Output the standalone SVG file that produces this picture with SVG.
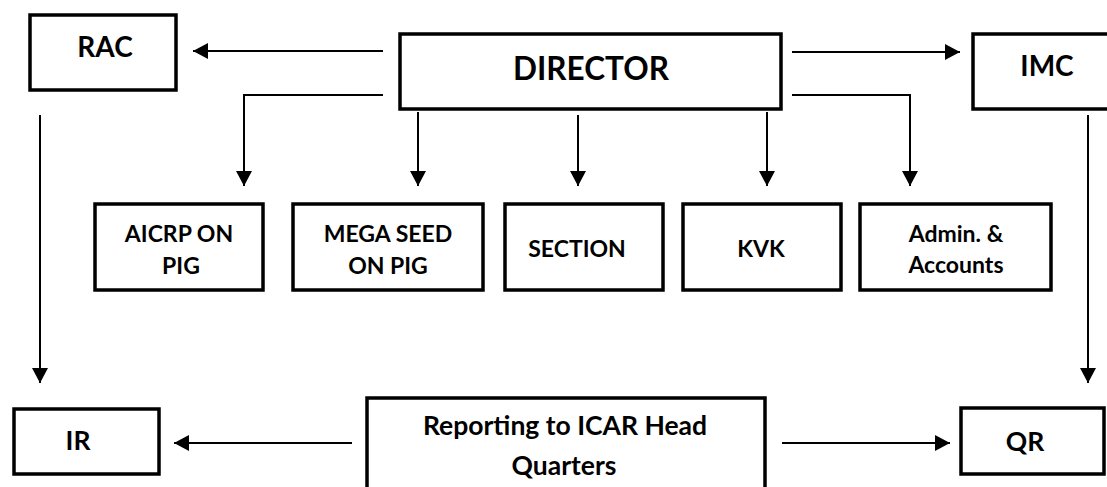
<svg xmlns="http://www.w3.org/2000/svg" width="1107" height="487" viewBox="0 0 1107 487">
<style>
.box{fill:#fff;stroke:#000;stroke-width:3.5}
.ln{fill:none;stroke:#000;stroke-width:2;marker-end:url(#ah)}
text{font-family:Lato,"Liberation Sans",sans-serif;font-weight:bold;fill:#000;text-anchor:middle}
.t1{font-size:23px}
.t2{font-size:26.5px}
.t3{font-size:28px}
.t4{font-size:31.5px}
</style>
<defs>
<marker id="ah" markerUnits="userSpaceOnUse" markerWidth="16" markerHeight="16" refX="15" refY="8" orient="auto">
<path d="M0,0 L15,8 L0,16 Z" fill="#000"/>
</marker>
</defs>
<rect width="1107" height="487" fill="#fff"/>
<g id="connectors">
<path class="ln" d="M383,51 H193"/>
<path class="ln" d="M792,52 H960"/>
<path class="ln" d="M383,95 H244 V186"/>
<path class="ln" d="M418,112 V186"/>
<path class="ln" d="M578,115 V186"/>
<path class="ln" d="M767,112 V186"/>
<path class="ln" d="M792,95 H910 V186"/>
<path class="ln" d="M40,115 V383"/>
<path class="ln" d="M1088,115 V383"/>
<path class="ln" d="M352,443 H174"/>
<path class="ln" d="M782,443 H950"/>
</g>
<g id="rac"><rect class="box" x="30" y="15" width="146" height="75"/><text class="t3" x="105" y="57">RAC</text></g>
<g id="director"><rect class="box" x="400" y="34" width="381" height="75"/><text class="t4" x="591" y="80">DIRECTOR</text></g>
<g id="imc"><rect class="box" x="973" y="34" width="150" height="75"/><text class="t3" x="1047" y="76">IMC</text></g>
<g id="aicrp"><rect class="box" x="95" y="204" width="168" height="86"/><text class="t1" x="179" y="242">AICRP ON</text><text class="t1" x="181" y="274">PIG</text></g>
<g id="megaseed"><rect class="box" x="293" y="204" width="190" height="86"/><text class="t1" x="388" y="242">MEGA SEED</text><text class="t1" x="388" y="274">ON PIG</text></g>
<g id="section"><rect class="box" x="505" y="204" width="158" height="86"/><text class="t1" x="577" y="257">SECTION</text></g>
<g id="kvk"><rect class="box" x="683" y="204" width="158" height="86"/><text class="t1" x="761" y="257">KVK</text></g>
<g id="admin"><rect class="box" x="860" y="204" width="191" height="86"/><text class="t1" x="956" y="242">Admin. &amp;</text><text class="t1" x="956" y="273">Accounts</text></g>
<g id="ir"><rect class="box" x="14" y="409" width="145" height="65"/><text class="t2" x="78" y="450">IR</text></g>
<g id="reporting"><rect class="box" x="367" y="398" width="398" height="100"/><text class="t2" x="565" y="435">Reporting to ICAR Head</text><text class="t2" x="564" y="475">Quarters</text></g>
<g id="qr"><rect class="box" x="961" y="408" width="143" height="66"/><text class="t2" x="1025" y="451">QR</text></g>
</svg>
